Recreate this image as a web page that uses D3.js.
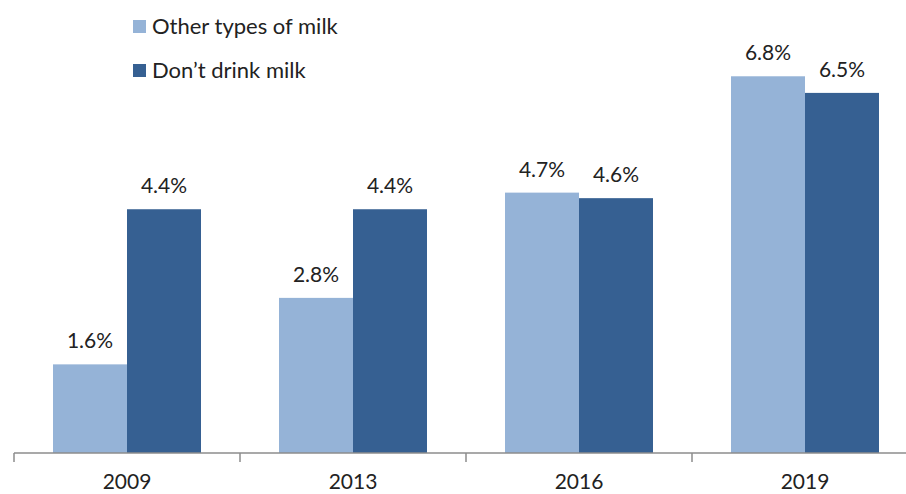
<!DOCTYPE html>
<html>
<head>
<meta charset="utf-8">
<script src="https://cdn.jsdelivr.net/npm/d3@7"></script>
<style>
  body { margin: 0; background: #fff; }
  text { font-family: Lato, "Open Sans", sans-serif; fill: #222; }
</style>
</head>
<body>
<svg id="chart" width="906" height="494"></svg>
<script>
// chart data
const years = ['2009', '2013', '2016', '2019'];
const series = ['Other types of milk', "Don\u2019t drink milk"];
const other_milk = [1.6, 2.8, 4.7, 6.8];
const dont_drink = [4.4, 4.4, 4.6, 6.5];
const colors = ['#95b3d7', '#366092'];

const svg = d3.select('#chart');
const base_y = 453;

const x = d3.scaleBand()
  .domain(years)
  .range([14, 918])
  .paddingInner(0)
  .paddingOuter(0);

const x_inner = d3.scaleBand()
  .domain(series)
  .range([0, x.bandwidth()])
  .paddingInner(0)
  .paddingOuter(0.527);

const y = d3.scaleLinear()
  .domain([0, 7])
  .range([base_y, base_y - 7 * 55.4]);

const rows = years.map((yr, i) => ({
  year: yr,
  values: [other_milk[i], dont_drink[i]]
}));

// bars
const groups = svg.selectAll('g.group')
  .data(rows)
  .join('g')
  .attr('class', 'group')
  .attr('transform', d => `translate(${x(d.year)},0)`);

groups.selectAll('rect')
  .data(d => d.values.map((v, j) => ({ v, s: series[j], j })))
  .join('rect')
  .attr('x', d => x_inner(d.s))
  .attr('y', d => y(d.v))
  .attr('width', x_inner.bandwidth())
  .attr('height', d => base_y - y(d.v))
  .attr('fill', d => colors[d.j]);

groups.selectAll('text.label')
  .data(d => d.values.map((v, j) => ({ v, s: series[j], j })))
  .join('text')
  .attr('class', 'label')
  .attr('x', d => x_inner(d.s) + x_inner.bandwidth() / 2)
  .attr('y', d => y(d.v) - 16)
  .attr('text-anchor', 'middle')
  .attr('font-size', 21)
  .text(d => d.v.toFixed(1) + '%');

// x axis
const axis = svg.append('g')
  .attr('transform', `translate(0,${base_y})`);
axis.append('line')
  .attr('x1', 14).attr('x2', 906)
  .attr('stroke', '#8c8c8c').attr('stroke-width', 1.5);
axis.selectAll('line.tick')
  .data(years.map(d => x(d)).concat([x.range()[1]]))
  .join('line')
  .attr('class', 'tick')
  .attr('x1', d => d).attr('x2', d => d)
  .attr('y1', 0).attr('y2', 9)
  .attr('stroke', '#8c8c8c').attr('stroke-width', 1.5);
axis.selectAll('text')
  .data(years)
  .join('text')
  .attr('x', d => x(d) + x.bandwidth() / 2)
  .attr('y', 36)
  .attr('text-anchor', 'middle')
  .attr('font-size', 21)
  .text(d => d);

// legend
const legend = svg.append('g')
  .selectAll('g')
  .data(series)
  .join('g')
  .attr('transform', (d, i) => `translate(133,${20 + i * 44})`);
legend.append('rect')
  .attr('width', 13).attr('height', 13)
  .attr('fill', (d, i) => colors[i]);
legend.append('text')
  .attr('x', 19)
  .attr('y', 14)
  .attr('font-size', 22)
  .text(d => d);
</script>
</body>
</html>
